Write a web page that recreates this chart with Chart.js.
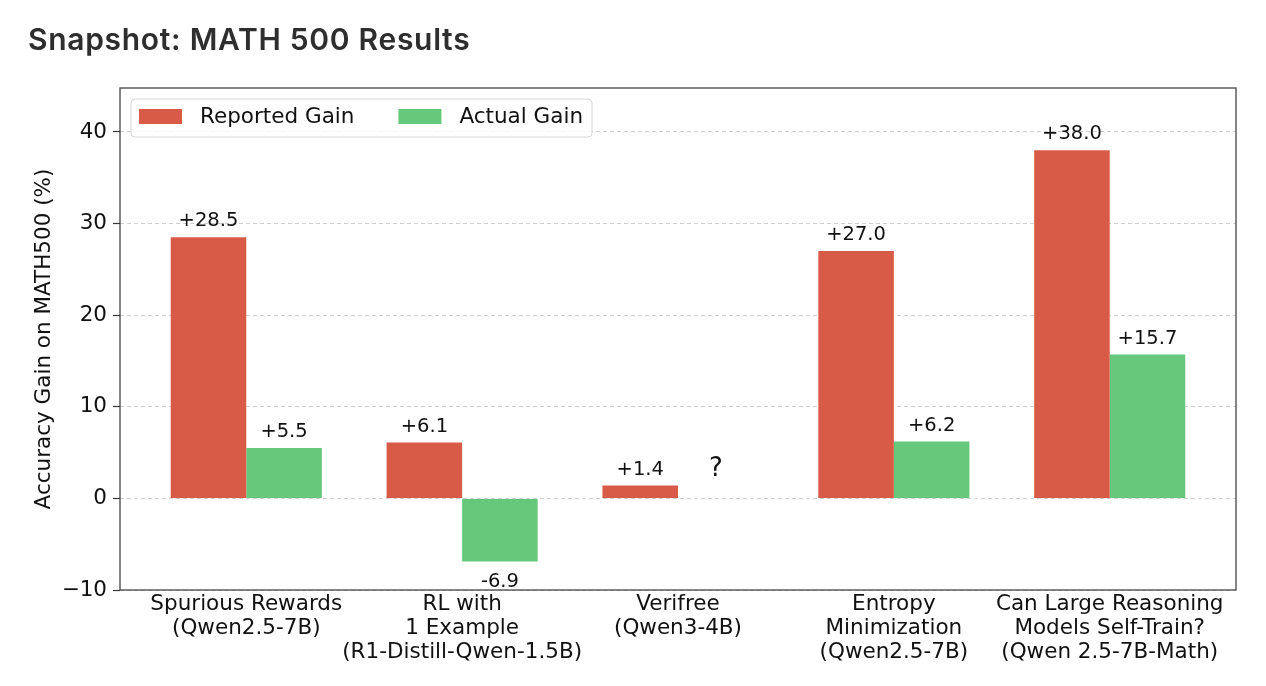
<!DOCTYPE html>
<html>
<head>
<meta charset="utf-8">
<script src="https://cdn.jsdelivr.net/npm/chart.js@4.4.1/dist/chart.umd.min.js"></script>
<style>
  html, body { margin: 0; padding: 0; background: #fff; }
  #wrap { position: relative; width: 1266px; height: 686px; }
  #title {
    position: absolute; left: 28px; top: 21px;
    font-family: 'Inter', 'Noto Sans', sans-serif; font-weight: 600;
    font-size: 30px; letter-spacing: 0.7px; color: #2e2e2e;
  }
  #chart { position: absolute; left: 0; top: 0; }
</style>
</head>
<body>
<div id="wrap">
  <canvas id="chart" width="1266" height="686"></canvas>
  <div id="title">Snapshot: MATH 500 Results</div>
</div>
<script>
const categories = [
  ['Spurious Rewards', '(Qwen2.5-7B)'],
  ['RL with', '1 Example', '(R1-Distill-Qwen-1.5B)'],
  ['Verifree', '(Qwen3-4B)'],
  ['Entropy', 'Minimization', '(Qwen2.5-7B)'],
  ['Can Large Reasoning', 'Models Self-Train?', '(Qwen 2.5-7B-Math)']
];
const reportedGain = [28.5, 6.1, 1.4, 27.0, 38.0];
const actualGain = [5.5, -6.9, null, 6.2, 15.7];
const yTicks = [-10, 0, 10, 20, 30, 40];

const RED = '#d85b48';
const GREEN = '#66c87a';
const FONT = "'DejaVu Sans', sans-serif";

const toPoints = arr => arr.map((v, i) => ({ x: i, y: v }));

const valueLabels = {
  id: 'valueLabels',
  afterDatasetsDraw(chart) {
    const ctx = chart.ctx;
    const y = chart.scales.y;
    ctx.save();
    ctx.fillStyle = '#111';
    ctx.textAlign = 'center';
    ctx.textBaseline = 'alphabetic';
    chart.data.datasets.forEach((ds, di) => {
      const meta = chart.getDatasetMeta(di);
      meta.data.forEach((bar, i) => {
        const v = ds.data[i].y;
        if (v === null) {
          const red = chart.getDatasetMeta(0).data[i];
          ctx.font = '26px ' + FONT;
          ctx.fillText('?', red.x + red.width, y.getPixelForValue(0) - 22);
          return;
        }
        ctx.font = '19.5px ' + FONT;
        if (v >= 0) {
          ctx.fillText('+' + v.toFixed(1), bar.x, y.getPixelForValue(v) - 11);
        } else {
          ctx.fillText(v.toFixed(1), bar.x, y.getPixelForValue(v) + 25);
        }
      });
    });
    ctx.restore();
  }
};

const frameAndLegend = {
  id: 'frameAndLegend',
  afterDraw(chart) {
    const ctx = chart.ctx;
    const a = chart.chartArea;
    ctx.save();
    ctx.strokeStyle = '#444';
    ctx.lineWidth = 1.3;
    ctx.strokeRect(a.left, a.top, a.right - a.left, a.bottom - a.top);

    // legend inside the plot, upper left
    ctx.font = '21.5px ' + FONT;
    const items = chart.data.datasets.map(d => ({ label: d.label, color: d.backgroundColor }));
    const bx = a.left + 11, by = a.top + 11, bh = 38;
    let x = bx + 8;
    const pos = items.map(it => {
      const p = x;
      x += 43 + 18 + ctx.measureText(it.label).width + 44;
      return p;
    });
    const bw = x - 44 + 9 - bx;
    ctx.beginPath();
    ctx.roundRect(bx, by, bw, bh, 4);
    ctx.fillStyle = 'rgba(255,255,255,0.85)';
    ctx.fill();
    ctx.strokeStyle = '#d6d6d6';
    ctx.lineWidth = 1;
    ctx.stroke();
    ctx.textBaseline = 'middle';
    ctx.textAlign = 'left';
    items.forEach((it, i) => {
      ctx.fillStyle = it.color;
      ctx.fillRect(pos[i], by + 10, 43, 15);
      ctx.fillStyle = '#111';
      ctx.fillText(it.label, pos[i] + 61, by + 18);
    });
    ctx.restore();
  }
};

new Chart(document.getElementById('chart'), {
  type: 'bar',
  data: {
    datasets: [
      { label: 'Reported Gain', data: toPoints(reportedGain), backgroundColor: RED },
      { label: 'Actual Gain', data: toPoints(actualGain), backgroundColor: GREEN }
    ]
  },
  options: {
    responsive: false,
    animation: false,
    layout: { padding: { top: 88, right: 30, left: 0, bottom: 0 } },
    categoryPercentage: 0.7,
    barPercentage: 1.0,
    plugins: { legend: { display: false }, tooltip: { enabled: false } },
    scales: {
      x: {
        type: 'linear',
        offset: false,
        min: -0.585,
        max: 4.585,
        afterBuildTicks: s => { s.ticks = categories.map((_, i) => ({ value: i })); },
        afterFit: s => { s.height = 96; },
        grid: { display: false, drawTicks: false, offset: false },
        border: { display: false },
        ticks: {
          autoSkip: false,
          maxRotation: 0,
          padding: 3,
          color: '#111',
          font: { family: FONT, size: 21.5, lineHeight: 1.1 },
          callback: v => categories[v]
        }
      },
      y: {
        min: -10,
        max: 44.8,
        afterBuildTicks: s => { s.ticks = yTicks.map(v => ({ value: v })); },
        afterFit: s => { s.width = 120; },
        grid: {
          color: '#cfcfcf',
          lineWidth: 1,
          tickLength: 7,
          tickColor: '#333',
          tickWidth: 1.2
        },
        border: { display: false, dash: [4, 3] },
        ticks: {
          padding: 6,
          color: '#111',
          font: { family: FONT, size: 21.5 },
          callback: v => (v < 0 ? '\u2212' + Math.abs(v) : String(v))
        },
        title: {
          display: true,
          text: 'Accuracy Gain on MATH500 (%)',
          color: '#111',
          font: { family: FONT, size: 21.5 },
          padding: { top: 32, bottom: 0 }
        }
      }
    }
  },
  plugins: [valueLabels, frameAndLegend]
});
</script>
</body>
</html>
